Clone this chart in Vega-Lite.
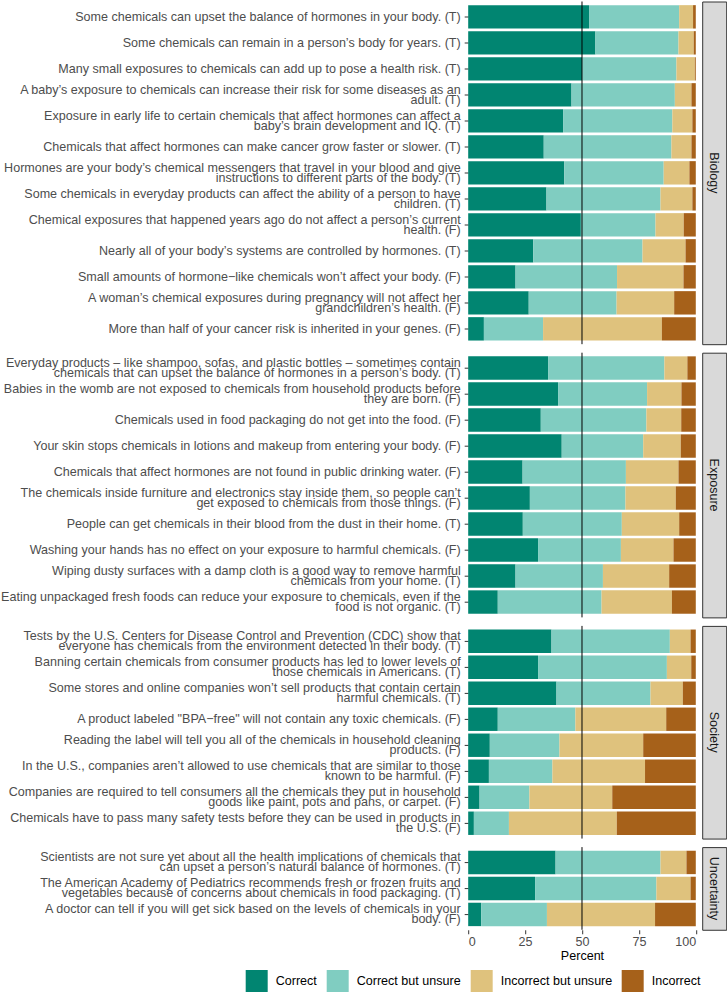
{
  "$schema": "https://vega.github.io/schema/vega-lite/v6.json",
  "padding": {"left": -0.8, "top": 0.5, "right": 0, "bottom": 0},
  "background": "white",
  "spacing": 6.2,
  "config": {
    "font": "Liberation Sans",
    "view": {"stroke": null}
  },
  "datasets": {
    "answers": [
      {"topic": "Biology", "question": "Some chemicals can upset the balance of hormones in your body. (T)", "Correct": 53.1, "Correct but unsure": 39.6, "Incorrect but unsure": 6.1, "Incorrect": 1.2},
      {"topic": "Biology", "question": "Some chemicals can remain in a person’s body for years. (T)", "Correct": 55.9, "Correct but unsure": 36.5, "Incorrect but unsure": 6.7, "Incorrect": 0.9},
      {"topic": "Biology", "question": "Many small exposures to chemicals can add up to pose a health risk. (T)", "Correct": 50.1, "Correct but unsure": 41.4, "Incorrect but unsure": 8.1, "Incorrect": 0.4},
      {"topic": "Biology", "question": "A baby’s exposure to chemicals can increase their risk for some diseases as an\nadult. (T)", "Correct": 45.4, "Correct but unsure": 45.4, "Incorrect but unsure": 7.3, "Incorrect": 1.9},
      {"topic": "Biology", "question": "Exposure in early life to certain chemicals that affect hormones can affect a\nbaby’s brain development and IQ. (T)", "Correct": 41.7, "Correct but unsure": 48.0, "Incorrect but unsure": 8.8, "Incorrect": 1.5},
      {"topic": "Biology", "question": "Chemicals that affect hormones can make cancer grow faster or slower. (T)", "Correct": 33.2, "Correct but unsure": 56.1, "Incorrect but unsure": 8.8, "Incorrect": 1.9},
      {"topic": "Biology", "question": "Hormones are your body’s chemical messengers that travel in your blood and give\ninstructions to different parts of the body. (T)", "Correct": 42.2, "Correct but unsure": 43.7, "Incorrect but unsure": 11.3, "Incorrect": 2.8},
      {"topic": "Biology", "question": "Some chemicals in everyday products can affect the ability of a person to have\nchildren. (T)", "Correct": 34.4, "Correct but unsure": 50.1, "Incorrect but unsure": 14.0, "Incorrect": 1.5},
      {"topic": "Biology", "question": "Chemical exposures that happened years ago do not affect a person’s current\nhealth. (F)", "Correct": 49.5, "Correct but unsure": 32.8, "Incorrect but unsure": 12.4, "Incorrect": 5.3},
      {"topic": "Biology", "question": "Nearly all of your body’s systems are controlled by hormones. (T)", "Correct": 28.6, "Correct but unsure": 48.0, "Incorrect but unsure": 18.9, "Incorrect": 4.5},
      {"topic": "Biology", "question": "Small amounts of hormone−like chemicals won’t affect your body. (F)", "Correct": 20.8, "Correct but unsure": 44.6, "Incorrect but unsure": 29.2, "Incorrect": 5.4},
      {"topic": "Biology", "question": "A woman’s chemical exposures during pregnancy will not affect her\ngrandchildren’s health. (F)", "Correct": 26.6, "Correct but unsure": 38.6, "Incorrect but unsure": 25.3, "Incorrect": 9.5},
      {"topic": "Biology", "question": "More than half of your cancer risk is inherited in your genes. (F)", "Correct": 6.9, "Correct but unsure": 26.0, "Incorrect but unsure": 52.2, "Incorrect": 14.9},
      {"topic": "Exposure", "question": "Everyday products – like shampoo, sofas, and plastic bottles – sometimes contain\nchemicals that can upset the balance of hormones in a person’s body. (T)", "Correct": 35.1, "Correct but unsure": 51.1, "Incorrect but unsure": 10.1, "Incorrect": 3.7},
      {"topic": "Exposure", "question": "Babies in the womb are not exposed to chemicals from household products before\nthey are born. (F)", "Correct": 39.5, "Correct but unsure": 39.1, "Incorrect but unsure": 15.1, "Incorrect": 6.3},
      {"topic": "Exposure", "question": "Chemicals used in food packaging do not get into the food. (F)", "Correct": 31.9, "Correct but unsure": 46.4, "Incorrect but unsure": 15.3, "Incorrect": 6.4},
      {"topic": "Exposure", "question": "Your skin stops chemicals in lotions and makeup from entering your body. (F)", "Correct": 41.1, "Correct but unsure": 35.8, "Incorrect but unsure": 16.5, "Incorrect": 6.6},
      {"topic": "Exposure", "question": "Chemicals that affect hormones are not found in public drinking water. (F)", "Correct": 23.9, "Correct but unsure": 45.4, "Incorrect but unsure": 23.1, "Incorrect": 7.6},
      {"topic": "Exposure", "question": "The chemicals inside furniture and electronics stay inside them, so people can’t\nget exposed to chemicals from those things. (F)", "Correct": 27.1, "Correct but unsure": 42.0, "Incorrect but unsure": 22.1, "Incorrect": 8.8},
      {"topic": "Exposure", "question": "People can get chemicals in their blood from the dust in their home. (T)", "Correct": 24.0, "Correct but unsure": 43.5, "Incorrect but unsure": 25.2, "Incorrect": 7.3},
      {"topic": "Exposure", "question": "Washing your hands has no effect on your exposure to harmful chemicals. (F)", "Correct": 30.7, "Correct but unsure": 36.4, "Incorrect but unsure": 23.1, "Incorrect": 9.8},
      {"topic": "Exposure", "question": "Wiping dusty surfaces with a damp cloth is a good way to remove harmful\nchemicals from your home. (T)", "Correct": 20.8, "Correct but unsure": 38.4, "Incorrect but unsure": 29.1, "Incorrect": 11.7},
      {"topic": "Exposure", "question": "Eating unpackaged fresh foods can reduce your exposure to chemicals, even if the\nfood is not organic. (T)", "Correct": 13.0, "Correct but unsure": 45.6, "Incorrect but unsure": 30.9, "Incorrect": 10.5},
      {"topic": "Society", "question": "Tests by the U.S. Centers for Disease Control and Prevention (CDC) show that\neveryone has chemicals from the environment detected in their body. (T)", "Correct": 36.6, "Correct but unsure": 52.0, "Incorrect but unsure": 9.1, "Incorrect": 2.3},
      {"topic": "Society", "question": "Banning certain chemicals from consumer products has led to lower levels of\nthose chemicals in Americans. (T)", "Correct": 30.7, "Correct but unsure": 56.6, "Incorrect but unsure": 10.7, "Incorrect": 2.0},
      {"topic": "Society", "question": "Some stores and online companies won’t sell products that contain certain\nharmful chemicals. (T)", "Correct": 38.8, "Correct but unsure": 41.3, "Incorrect but unsure": 14.2, "Incorrect": 5.7},
      {"topic": "Society", "question": "A product labeled \"BPA−free\" will not contain any toxic chemicals. (F)", "Correct": 13.0, "Correct but unsure": 34.1, "Incorrect but unsure": 39.9, "Incorrect": 13.0},
      {"topic": "Society", "question": "Reading the label will tell you all of the chemicals in household cleaning\nproducts. (F)", "Correct": 9.5, "Correct but unsure": 30.6, "Incorrect but unsure": 36.8, "Incorrect": 23.1},
      {"topic": "Society", "question": "In the U.S., companies aren’t allowed to use chemicals that are similar to those\nknown to be harmful. (F)", "Correct": 9.1, "Correct but unsure": 27.9, "Incorrect but unsure": 40.7, "Incorrect": 22.3},
      {"topic": "Society", "question": "Companies are required to tell consumers all the chemicals they put in household\ngoods like paint, pots and pans, or carpet. (F)", "Correct": 5.0, "Correct but unsure": 21.9, "Incorrect but unsure": 36.4, "Incorrect": 36.7},
      {"topic": "Society", "question": "Chemicals have to pass many safety tests before they can be used in products in\nthe U.S. (F)", "Correct": 2.5, "Correct but unsure": 15.4, "Incorrect but unsure": 47.4, "Incorrect": 34.7},
      {"topic": "Uncertainty", "question": "Scientists are not sure yet about all the health implications of chemicals that\ncan upset a person’s natural balance of hormones. (T)", "Correct": 38.4, "Correct but unsure": 46.1, "Incorrect but unsure": 11.4, "Incorrect": 4.1},
      {"topic": "Uncertainty", "question": "The American Academy of Pediatrics recommends fresh or frozen fruits and\nvegetables because of concerns about chemicals in food packaging. (T)", "Correct": 29.4, "Correct but unsure": 53.3, "Incorrect but unsure": 15.0, "Incorrect": 2.3},
      {"topic": "Uncertainty", "question": "A doctor can tell if you will get sick based on the levels of chemicals in your\nbody. (F)", "Correct": 5.7, "Correct but unsure": 28.9, "Incorrect but unsure": 47.5, "Incorrect": 17.9}
    ]
  },
  "vconcat": [
    {
      "bounds": "flush",
      "spacing": 6,
      "hconcat": [
        {
          "width": 227.6,
          "height": 342.68,
          "data": {"name": "answers"},
          "transform": [
            {"filter": "datum.topic === 'Biology'"},
            {"fold": ["Correct", "Correct but unsure", "Incorrect but unsure", "Incorrect"], "as": ["response", "pct"]},
            {"window": [{"op": "row_number", "as": "rank"}], "groupby": ["question"]}
          ],
          "layer": [
            {
              "mark": {"type": "bar"},
              "encoding": {
                "y": {"field": "question", "type": "nominal", "sort": null,
                      "scale": {"paddingInner": 0.1, "paddingOuter": 0.14},
                      "axis": {"title": null, "domain": false, "tickSize": 4, "tickColor": "#333333", "labelColor": "#4d4d4d", "labelFontSize": 12.57, "labelLimit": 0, "labelPadding": 4, "labelLineHeight": 10, "labelOffset": {"condition": {"test": "indexof(datum.value, '\\n') >= 0", "value": -5}, "value": 0}, "labelExpr": "split(datum.value, '\\n')"}},
                "x": {"field": "pct", "type": "quantitative", "stack": "zero", "scale": {"domain": [0, 100], "nice": false}, "axis": null},
                "color": {"field": "response", "type": "nominal",
                          "scale": {"domain": ["Correct", "Correct but unsure", "Incorrect but unsure", "Incorrect"], "range": ["#018571", "#80cdc1", "#dfc27d", "#a6611a"]},
                          "legend": {"title": null, "orient": "none", "direction": "horizontal", "legendX": -222.5, "legendY": 968.5, "padding": 0, "symbolType": "square", "symbolSize": 484, "symbolStrokeWidth": 0, "symbolOpacity": 1, "labelFontSize": 12.57, "labelColor": "#000000", "labelOffset": 8, "columnPadding": 9}},
                "order": {"field": "rank", "type": "quantitative"}
              }
            },
            {
              "data": {"values": [{"mid": 50}]},
              "mark": {"type": "rule", "color": "#000000", "strokeWidth": 1},
              "encoding": {"x": {"field": "mid", "type": "quantitative"}}
            }
          ]
        },
        {
          "width": 24,
          "height": 342.68,
          "view": {"fill": "#d9d9d9", "stroke": "#333333", "strokeWidth": 1},
          "data": {"values": [{"topic": "Biology"}]},
          "mark": {"type": "text", "angle": 90, "fontSize": 12.57, "color": "#1a1a1a", "align": "center", "baseline": "middle"},
          "encoding": {"text": {"field": "topic"}}
        }
      ]
    },
    {
      "bounds": "flush",
      "spacing": 6,
      "hconcat": [
        {
          "width": 227.6,
          "height": 264.68,
          "data": {"name": "answers"},
          "transform": [
            {"filter": "datum.topic === 'Exposure'"},
            {"fold": ["Correct", "Correct but unsure", "Incorrect but unsure", "Incorrect"], "as": ["response", "pct"]},
            {"window": [{"op": "row_number", "as": "rank"}], "groupby": ["question"]}
          ],
          "layer": [
            {
              "mark": {"type": "bar"},
              "encoding": {
                "y": {"field": "question", "type": "nominal", "sort": null,
                      "scale": {"paddingInner": 0.1, "paddingOuter": 0.14},
                      "axis": {"title": null, "domain": false, "tickSize": 4, "tickColor": "#333333", "labelColor": "#4d4d4d", "labelFontSize": 12.57, "labelLimit": 0, "labelPadding": 4, "labelLineHeight": 10, "labelOffset": {"condition": {"test": "indexof(datum.value, '\\n') >= 0", "value": -5}, "value": 0}, "labelExpr": "split(datum.value, '\\n')"}},
                "x": {"field": "pct", "type": "quantitative", "stack": "zero", "scale": {"domain": [0, 100], "nice": false}, "axis": null},
                "color": {"field": "response", "type": "nominal",
                          "scale": {"domain": ["Correct", "Correct but unsure", "Incorrect but unsure", "Incorrect"], "range": ["#018571", "#80cdc1", "#dfc27d", "#a6611a"]},
                          "legend": {"title": null, "orient": "none", "direction": "horizontal", "legendX": -222.5, "legendY": 968.5, "padding": 0, "symbolType": "square", "symbolSize": 484, "symbolStrokeWidth": 0, "symbolOpacity": 1, "labelFontSize": 12.57, "labelColor": "#000000", "labelOffset": 8, "columnPadding": 9}},
                "order": {"field": "rank", "type": "quantitative"}
              }
            },
            {
              "data": {"values": [{"mid": 50}]},
              "mark": {"type": "rule", "color": "#000000", "strokeWidth": 1},
              "encoding": {"x": {"field": "mid", "type": "quantitative"}}
            }
          ]
        },
        {
          "width": 24,
          "height": 264.68,
          "view": {"fill": "#d9d9d9", "stroke": "#333333", "strokeWidth": 1},
          "data": {"values": [{"topic": "Exposure"}]},
          "mark": {"type": "text", "angle": 90, "fontSize": 12.57, "color": "#1a1a1a", "align": "center", "baseline": "middle"},
          "encoding": {"text": {"field": "topic"}}
        }
      ]
    },
    {
      "bounds": "flush",
      "spacing": 6,
      "hconcat": [
        {
          "width": 227.6,
          "height": 212.68,
          "data": {"name": "answers"},
          "transform": [
            {"filter": "datum.topic === 'Society'"},
            {"fold": ["Correct", "Correct but unsure", "Incorrect but unsure", "Incorrect"], "as": ["response", "pct"]},
            {"window": [{"op": "row_number", "as": "rank"}], "groupby": ["question"]}
          ],
          "layer": [
            {
              "mark": {"type": "bar"},
              "encoding": {
                "y": {"field": "question", "type": "nominal", "sort": null,
                      "scale": {"paddingInner": 0.1, "paddingOuter": 0.14},
                      "axis": {"title": null, "domain": false, "tickSize": 4, "tickColor": "#333333", "labelColor": "#4d4d4d", "labelFontSize": 12.57, "labelLimit": 0, "labelPadding": 4, "labelLineHeight": 10, "labelOffset": {"condition": {"test": "indexof(datum.value, '\\n') >= 0", "value": -5}, "value": 0}, "labelExpr": "split(datum.value, '\\n')"}},
                "x": {"field": "pct", "type": "quantitative", "stack": "zero", "scale": {"domain": [0, 100], "nice": false}, "axis": null},
                "color": {"field": "response", "type": "nominal",
                          "scale": {"domain": ["Correct", "Correct but unsure", "Incorrect but unsure", "Incorrect"], "range": ["#018571", "#80cdc1", "#dfc27d", "#a6611a"]},
                          "legend": {"title": null, "orient": "none", "direction": "horizontal", "legendX": -222.5, "legendY": 968.5, "padding": 0, "symbolType": "square", "symbolSize": 484, "symbolStrokeWidth": 0, "symbolOpacity": 1, "labelFontSize": 12.57, "labelColor": "#000000", "labelOffset": 8, "columnPadding": 9}},
                "order": {"field": "rank", "type": "quantitative"}
              }
            },
            {
              "data": {"values": [{"mid": 50}]},
              "mark": {"type": "rule", "color": "#000000", "strokeWidth": 1},
              "encoding": {"x": {"field": "mid", "type": "quantitative"}}
            }
          ]
        },
        {
          "width": 24,
          "height": 212.68,
          "view": {"fill": "#d9d9d9", "stroke": "#333333", "strokeWidth": 1},
          "data": {"values": [{"topic": "Society"}]},
          "mark": {"type": "text", "angle": 90, "fontSize": 12.57, "color": "#1a1a1a", "align": "center", "baseline": "middle"},
          "encoding": {"text": {"field": "topic"}}
        }
      ]
    },
    {
      "bounds": "flush",
      "spacing": 6,
      "hconcat": [
        {
          "width": 227.6,
          "height": 82.68,
          "data": {"name": "answers"},
          "transform": [
            {"filter": "datum.topic === 'Uncertainty'"},
            {"fold": ["Correct", "Correct but unsure", "Incorrect but unsure", "Incorrect"], "as": ["response", "pct"]},
            {"window": [{"op": "row_number", "as": "rank"}], "groupby": ["question"]}
          ],
          "layer": [
            {
              "mark": {"type": "bar"},
              "encoding": {
                "y": {"field": "question", "type": "nominal", "sort": null,
                      "scale": {"paddingInner": 0.1, "paddingOuter": 0.14},
                      "axis": {"title": null, "domain": false, "tickSize": 4, "tickColor": "#333333", "labelColor": "#4d4d4d", "labelFontSize": 12.57, "labelLimit": 0, "labelPadding": 4, "labelLineHeight": 10, "labelOffset": {"condition": {"test": "indexof(datum.value, '\\n') >= 0", "value": -5}, "value": 0}, "labelExpr": "split(datum.value, '\\n')"}},
                "x": {"field": "pct", "type": "quantitative", "stack": "zero", "scale": {"domain": [0, 100], "nice": false},
                      "axis": {"title": "Percent", "values": [0, 25, 50, 75, 100], "domain": false, "grid": false, "tickSize": 4, "tickColor": "#333333", "labelColor": "#4d4d4d", "labelFontSize": 12.57, "labelPadding": 2, "titleFontSize": 12.57, "titleFontWeight": "normal", "titleColor": "#000000", "titlePadding": 1}},
                "color": {"field": "response", "type": "nominal",
                          "scale": {"domain": ["Correct", "Correct but unsure", "Incorrect but unsure", "Incorrect"], "range": ["#018571", "#80cdc1", "#dfc27d", "#a6611a"]},
                          "legend": {"title": null, "orient": "none", "direction": "horizontal", "legendX": -222.5, "legendY": 968.5, "padding": 0, "symbolType": "square", "symbolSize": 484, "symbolStrokeWidth": 0, "symbolOpacity": 1, "labelFontSize": 12.57, "labelColor": "#000000", "labelOffset": 8, "columnPadding": 9}},
                "order": {"field": "rank", "type": "quantitative"}
              }
            },
            {
              "data": {"values": [{"mid": 50}]},
              "mark": {"type": "rule", "color": "#000000", "strokeWidth": 1},
              "encoding": {"x": {"field": "mid", "type": "quantitative"}}
            }
          ]
        },
        {
          "width": 24,
          "height": 82.68,
          "view": {"fill": "#d9d9d9", "stroke": "#333333", "strokeWidth": 1},
          "data": {"values": [{"topic": "Uncertainty"}]},
          "mark": {"type": "text", "angle": 90, "fontSize": 12.57, "color": "#1a1a1a", "align": "center", "baseline": "middle"},
          "encoding": {"text": {"field": "topic"}}
        }
      ]
    }
  ]
}
